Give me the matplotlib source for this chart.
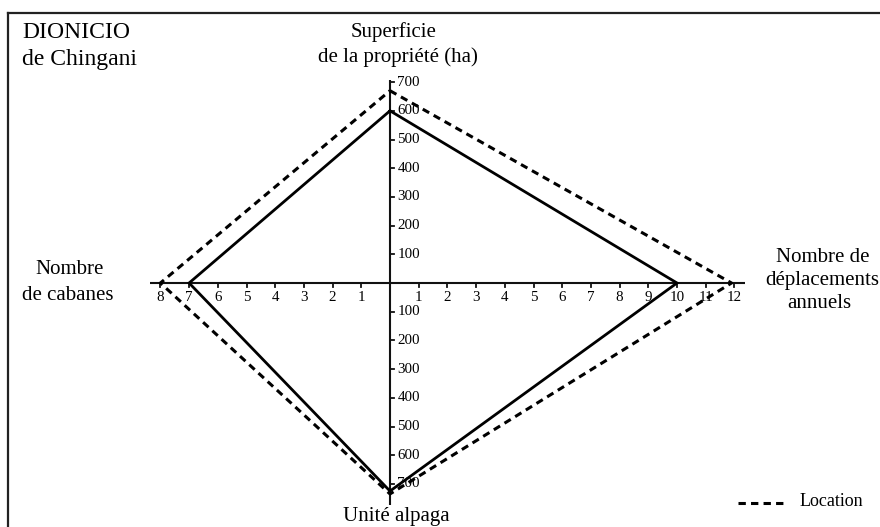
import matplotlib
matplotlib.use("Agg")
import matplotlib.pyplot as plt
from matplotlib.lines import Line2D

plt.rcParams['font.family'] = ['Liberation Serif', 'DejaVu Serif']

# ---- data ----
title_lines = ["DIONICIO", "de Chingani"]
axis_top_label = ["Superficie", "de la propriété (ha)"]
axis_right_label = ["Nombre de", "déplacements", "annuels"]
axis_left_label = ["Nombre", "de cabanes"]
axis_bottom_label = "Unité alpaga"
legend_label = "Location"

right_ticks = [1, 2, 3, 4, 5, 6, 7, 8, 9, 10, 11, 12]
left_ticks = [1, 2, 3, 4, 5, 6, 7, 8]
up_ticks = [100, 200, 300, 400, 500, 600, 700]
down_ticks = [100, 200, 300, 400, 500, 600, 700]

# owned (solid) profile
own_superficie = 600
own_deplacements = 10
own_alpaga = 725
own_cabanes = 7
# location (dashed) profile
loc_superficie = 670
loc_deplacements = 11.9
loc_alpaga = 735
loc_cabanes = 8

# ---- figure ----
W, H = 880, 527
fig = plt.figure(figsize=(W / 100, H / 100), dpi=100)
ax = fig.add_axes([0, 0, 1, 1])
ax.axis('off')

cx, cy = 390.0, 283.0      # centre in pixels
ux = 28.7                  # px per unit horizontally
uy = 0.287                 # px per hectare / unit vertically
ax.set_xlim(-cx / ux, (W - cx) / ux)
ax.set_ylim(-(H - cy) / uy, cy / uy)

# axes lines
ax.plot([-8.36, 12.37], [0, 0], color='#111111', lw=1.5, solid_capstyle='butt')
ax.plot([0, 0], [-773, 707], color='#111111', lw=1.5, solid_capstyle='butt')

tick_len_y = 4 / uy
tick_len_x = 4 / ux
for t in right_ticks:
    ax.plot([t, t], [0, -tick_len_y], color='#111111', lw=1.3)
    ax.text(t, -52, str(t), ha='center', va='center', fontsize=10.8)
for t in left_ticks:
    ax.plot([-t, -t], [0, -tick_len_y], color='#111111', lw=1.3)
    ax.text(-t, -52, str(t), ha='center', va='center', fontsize=10.8)
for t in up_ticks:
    ax.plot([0, tick_len_x], [t, t], color='#111111', lw=1.3)
    ax.text(0.26, t, str(t), ha='left', va='center', fontsize=10.8)
for t in down_ticks:
    ax.plot([0, tick_len_x], [-t, -t], color='#111111', lw=1.3)
    ax.text(0.26, -t, str(t), ha='left', va='center', fontsize=10.8)

# profiles
own_x = [0, own_deplacements, 0, -own_cabanes, 0]
own_y = [own_superficie, 0, -own_alpaga, 0, own_superficie]
loc_x = [0, loc_deplacements, 0, -loc_cabanes, 0]
loc_y = [loc_superficie, 0, -loc_alpaga, 0, loc_superficie]
ax.plot(own_x, own_y, color='black', lw=2.0, solid_joinstyle='miter')
ax.plot(loc_x, loc_y, color='black', lw=2.2, linestyle=(0, (2.4, 1.7)))

# texts (figure pixel coordinates -> figure fraction)
def ftext(px, py, s, size, ha='center'):
    fig.text(px / W, 1 - py / H, s, ha=ha, va='center', fontsize=size)

ftext(22, 32, title_lines[0], 17, ha='left')
ftext(22, 59, title_lines[1], 17, ha='left')
ftext(394, 32, axis_top_label[0], 15)
ftext(398, 57, axis_top_label[1], 15)
ftext(823, 258, axis_right_label[0], 15)
ftext(822, 281, axis_right_label[1], 15)
ftext(819, 304, axis_right_label[2], 15)
ftext(70, 270, axis_left_label[0], 15)
ftext(68, 295, axis_left_label[1], 15)
ftext(396, 517, axis_bottom_label, 15)

# legend
fig.add_artist(Line2D([738 / W, 787 / W], [1 - 502.5 / H, 1 - 502.5 / H],
                      color='black', lw=2.2, linestyle=(0, (2.4, 1.7))))
ftext(800, 501, legend_label, 13, ha='left')

# frame (top and left visible)
fx, fy = 8.3 / W, 1 - 13.3 / H
fig.add_artist(Line2D([fx, 1.01], [fy, fy], color='#222222', lw=1.6))
fig.add_artist(Line2D([fx, fx], [fy, -0.01], color='#222222', lw=1.6))

fig.savefig("out.png", dpi=100)
